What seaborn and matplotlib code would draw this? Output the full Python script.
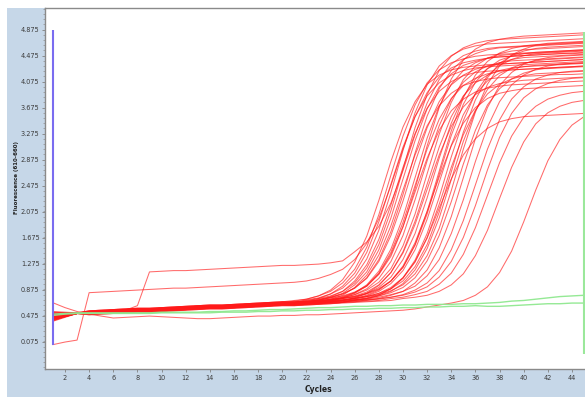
import matplotlib
matplotlib.use("Agg")
import matplotlib.pyplot as plt
import seaborn as sns
import pandas as pd
from matplotlib.patches import Rectangle
from matplotlib.ticker import FixedLocator, MultipleLocator

cycles = list(range(1, 46))

red_curves = {
    "r01": [.45,.49,.51,.53,.54,.55,.56,.57,.57,.58,.59,.60,.61,.62,.62,.63,.64,.65,.66,.67,.70,.73,.78,.87,1.03,1.30,1.70,2.25,2.85,3.38,3.77,4.04,4.18,4.26,4.30,4.32,4.34,4.35,4.36,4.37,4.38,4.39,4.40,4.41,4.42],
    "r02": [.42,.47,.51,.55,.56,.57,.58,.59,.59,.60,.61,.62,.63,.64,.64,.65,.66,.67,.68,.69,.71,.73,.78,.85,.98,1.19,1.53,2.03,2.64,3.24,3.72,4.06,4.26,4.37,4.43,4.47,4.49,4.50,4.51,4.52,4.53,4.54,4.55,4.56,4.57],
    "r03": [.50,.51,.51,.51,.52,.53,.54,.55,.55,.56,.57,.58,.59,.60,.60,.61,.62,.63,.64,.65,.65,.68,.72,.77,.85,1.01,1.26,1.65,2.18,2.76,3.28,3.67,3.93,4.08,4.17,4.22,4.24,4.25,4.26,4.27,4.28,4.28,4.29,4.30,4.31],
    "r04": [.40,.46,.51,.54,.55,.56,.57,.58,.58,.59,.60,.61,.62,.63,.63,.64,.65,.66,.67,.68,.68,.72,.75,.81,.90,1.07,1.35,1.79,2.37,3.02,3.60,4.03,4.32,4.48,4.58,4.63,4.66,4.67,4.68,4.69,4.70,4.71,4.72,4.73,4.74],
    "r05": [.47,.49,.51,.52,.53,.54,.55,.56,.56,.57,.58,.59,.60,.61,.61,.62,.63,.64,.65,.66,.66,.69,.71,.76,.82,.95,1.15,1.49,1.98,2.58,3.17,3.66,4.00,4.20,4.33,4.39,4.44,4.46,4.47,4.48,4.49,4.50,4.51,4.51,4.52],
    "r06": [.53,.52,.51,.50,.51,.52,.53,.54,.54,.55,.56,.57,.58,.59,.59,.60,.61,.62,.63,.64,.64,.67,.69,.73,.79,.91,1.10,1.41,1.86,2.41,2.95,3.40,3.71,3.90,4.02,4.08,4.12,4.14,4.15,4.16,4.17,4.18,4.19,4.19,4.20],
    "r07": [.44,.48,.51,.53,.54,.55,.56,.57,.57,.58,.59,.60,.61,.62,.62,.63,.64,.65,.66,.67,.67,.68,.72,.75,.81,.90,1.06,1.34,1.77,2.34,2.98,3.55,3.97,4.25,4.42,4.51,4.57,4.60,4.61,4.62,4.63,4.64,4.65,4.66,4.67],
    "r08": [.49,.50,.52,.54,.55,.56,.57,.58,.58,.59,.60,.61,.62,.63,.63,.64,.65,.66,.67,.68,.68,.69,.73,.76,.81,.90,1.05,1.31,1.71,2.24,2.84,3.37,3.77,4.03,4.18,4.27,4.32,4.35,4.36,4.37,4.38,4.39,4.40,4.41,4.42],
    "r09": [.41,.46,.51,.51,.52,.53,.54,.55,.55,.56,.57,.58,.59,.60,.60,.61,.62,.63,.64,.65,.65,.66,.69,.71,.76,.83,.95,1.16,1.50,1.99,2.60,3.21,3.70,4.04,4.25,4.37,4.44,4.48,4.50,4.51,4.52,4.53,4.54,4.55,4.56],
    "r10": [.46,.49,.51,.53,.54,.55,.56,.57,.57,.58,.59,.60,.61,.62,.62,.63,.64,.65,.66,.67,.67,.68,.71,.73,.77,.83,.94,1.12,1.42,1.85,2.38,2.90,3.33,3.63,3.81,3.92,3.98,4.01,4.03,4.04,4.05,4.06,4.07,4.08,4.09],
    "r11": [.52,.52,.52,.55,.56,.57,.58,.59,.59,.60,.61,.62,.63,.64,.64,.65,.66,.67,.68,.69,.69,.70,.71,.75,.78,.84,.93,1.11,1.39,1.84,2.43,3.09,3.68,4.12,4.41,4.58,4.68,4.73,4.76,4.78,4.79,4.80,4.81,4.82,4.83],
    "r12": [.43,.47,.51,.52,.53,.54,.55,.56,.56,.57,.58,.59,.60,.61,.61,.62,.63,.64,.65,.66,.66,.67,.68,.72,.75,.80,.89,1.05,1.31,1.71,2.26,2.86,3.40,3.81,4.07,4.23,4.32,4.37,4.40,4.41,4.42,4.43,4.44,4.45,4.46],
    "r13": [.48,.50,.51,.50,.51,.52,.53,.54,.54,.55,.56,.57,.58,.59,.59,.60,.61,.62,.63,.64,.64,.65,.66,.69,.71,.75,.82,.94,1.14,1.46,1.93,2.50,3.07,3.54,3.86,4.06,4.18,4.25,4.29,4.31,4.32,4.33,4.34,4.35,4.36],
    "r14": [.45,.48,.51,.54,.55,.56,.57,.58,.58,.59,.60,.61,.62,.63,.63,.64,.65,.66,.67,.68,.68,.69,.70,.73,.75,.80,.87,.99,1.20,1.55,2.04,2.66,3.27,3.76,4.11,4.32,4.44,4.51,4.55,4.57,4.58,4.59,4.60,4.61,4.62],
    "r15": [.39,.45,.51,.53,.54,.55,.56,.57,.57,.58,.59,.60,.61,.62,.62,.63,.64,.65,.66,.67,.67,.68,.69,.70,.74,.77,.82,.91,1.07,1.34,1.74,2.29,2.90,3.44,3.85,4.12,4.28,4.37,4.42,4.45,4.46,4.47,4.48,4.49,4.50],
    "r16": [.50,.51,.51,.51,.52,.53,.54,.55,.55,.56,.57,.58,.59,.60,.60,.61,.62,.63,.64,.65,.65,.66,.67,.68,.71,.74,.79,.87,1.01,1.24,1.60,2.08,2.61,3.09,3.44,3.68,3.82,3.90,3.94,3.97,3.98,3.99,4.00,4.01,4.02],
    "r17": [.44,.48,.51,.54,.55,.56,.57,.58,.58,.59,.60,.61,.62,.63,.63,.64,.65,.66,.67,.68,.68,.69,.70,.71,.74,.76,.81,.88,1.01,1.22,1.57,2.08,2.70,3.32,3.83,4.18,4.39,4.52,4.59,4.63,4.65,4.66,4.67,4.68,4.69],
    "r18": [.47,.49,.51,.52,.53,.54,.55,.56,.56,.57,.58,.59,.60,.61,.61,.62,.63,.64,.65,.66,.66,.67,.68,.69,.72,.74,.78,.85,.97,1.17,1.49,1.96,2.53,3.10,3.57,3.89,4.09,4.21,4.28,4.31,4.33,4.34,4.35,4.36,4.37],
    "r19": [.42,.47,.51,.50,.51,.52,.53,.54,.54,.55,.56,.57,.58,.59,.59,.60,.61,.62,.63,.64,.64,.65,.66,.67,.68,.72,.75,.80,.89,1.06,1.33,1.74,2.30,2.92,3.48,3.90,4.17,4.33,4.42,4.48,4.51,4.52,4.53,4.54,4.55],
    "r20": [.54,.53,.52,.53,.54,.55,.56,.57,.57,.58,.59,.60,.61,.62,.62,.63,.64,.65,.66,.67,.67,.68,.69,.70,.71,.74,.77,.82,.91,1.06,1.30,1.68,2.19,2.76,3.26,3.64,3.89,4.04,4.12,4.17,4.20,4.21,4.22,4.23,4.24],
    "r21": [.46,.49,.51,.51,.52,.53,.54,.55,.55,.56,.57,.58,.59,.60,.60,.61,.62,.63,.64,.65,.65,.66,.67,.68,.69,.72,.74,.78,.85,.97,1.18,1.51,1.98,2.57,3.16,3.63,3.96,4.17,4.29,4.36,4.40,4.42,4.43,4.44,4.45],
    "r22": [.41,.46,.51,.54,.55,.56,.57,.58,.58,.59,.60,.61,.62,.63,.63,.64,.65,.66,.67,.68,.68,.69,.70,.71,.72,.75,.77,.82,.89,1.01,1.23,1.57,2.07,2.69,3.30,3.80,4.14,4.36,4.48,4.55,4.59,4.61,4.62,4.63,4.64],
    "r23": [.48,.50,.51,.52,.53,.54,.55,.56,.56,.57,.58,.59,.60,.61,.61,.62,.63,.64,.65,.66,.66,.67,.68,.69,.70,.71,.74,.78,.83,.91,1.06,1.32,1.71,2.23,2.81,3.33,3.72,3.97,4.12,4.21,4.26,4.29,4.30,4.31,4.32],
    "r24": [.45,.48,.51,.50,.51,.52,.53,.54,.54,.55,.56,.57,.58,.59,.59,.60,.61,.62,.63,.64,.64,.65,.66,.67,.68,.69,.72,.74,.79,.85,.98,1.18,1.52,2.00,2.60,3.20,3.68,4.02,4.22,4.35,4.41,4.45,4.47,4.48,4.49],
    "r25": [.43,.47,.51,.53,.54,.55,.56,.57,.57,.58,.59,.60,.61,.62,.62,.63,.64,.65,.66,.67,.67,.68,.69,.70,.71,.72,.73,.76,.80,.85,.93,1.09,1.34,1.74,2.26,2.85,3.38,3.77,4.03,4.18,4.27,4.32,4.35,4.36,4.37],
    "r26": [.50,.51,.51,.51,.52,.53,.54,.55,.55,.56,.57,.58,.59,.60,.60,.61,.62,.63,.64,.65,.65,.66,.67,.68,.69,.70,.71,.74,.76,.80,.87,.98,1.17,1.49,1.94,2.49,3.04,3.49,3.81,4.00,4.12,4.18,4.22,4.24,4.25],
    "r27": [.46,.49,.51,.52,.53,.54,.55,.56,.56,.57,.58,.59,.60,.61,.61,.62,.63,.64,.65,.66,.66,.67,.68,.69,.70,.71,.72,.73,.76,.79,.84,.92,1.07,1.31,1.68,2.17,2.72,3.22,3.59,3.83,3.97,4.05,4.10,4.13,4.14],
    "r28": [.44,.48,.51,.50,.51,.52,.53,.54,.54,.55,.56,.57,.58,.59,.59,.60,.61,.62,.63,.64,.64,.65,.66,.67,.68,.69,.70,.71,.74,.76,.80,.85,.96,1.13,1.42,1.83,2.33,2.83,3.24,3.53,3.70,3.81,3.87,3.91,3.93],
    "r29": [.48,.50,.51,.49,.50,.51,.52,.53,.53,.54,.55,.56,.57,.58,.58,.59,.60,.61,.62,.63,.63,.64,.65,.66,.68,.71,.74,.79,.89,1.05,1.31,1.67,2.13,2.58,2.95,3.20,3.36,3.46,3.51,3.54,3.55,3.56,3.57,3.58,3.59],
    "r30": [.47,.49,.51,.49,.50,.51,.52,.53,.53,.54,.55,.56,.57,.58,.58,.59,.60,.61,.62,.63,.63,.64,.65,.66,.67,.68,.69,.70,.71,.74,.76,.79,.85,.95,1.12,1.40,1.79,2.28,2.76,3.15,3.43,3.60,3.70,3.76,3.79],
    "r31": [.675,.60,.54,.50,.47,.44,.45,.46,.47,.46,.45,.44,.43,.43,.44,.45,.46,.47,.47,.48,.48,.49,.49,.50,.51,.52,.53,.54,.55,.56,.58,.61,.64,.67,.71,.79,.92,1.14,1.47,1.92,2.41,2.86,3.19,3.41,3.54],
    "r32": [.03,.07,.10,.83,.84,.85,.86,.87,.88,.89,.90,.90,.91,.92,.93,.94,.95,.96,.97,.98,.99,1.01,1.05,1.11,1.19,1.34,1.59,1.97,2.48,3.04,3.54,3.91,4.15,4.29,4.37,4.41,4.44,4.46,4.47,4.48,4.49,4.50,4.51,4.52,4.53],
    "r33": [.50,.51,.52,.53,.54,.55,.56,.63,1.15,1.16,1.17,1.17,1.18,1.19,1.20,1.21,1.22,1.23,1.24,1.25,1.25,1.26,1.27,1.29,1.32,1.46,1.61,1.85,2.21,2.71,3.26,3.75,4.11,4.35,4.48,4.55,4.59,4.61,4.62,4.63,4.64,4.65,4.66,4.67,4.68],
    "r34": [.51,.51,.51,.52,.53,.54,.55,.56,.56,.57,.58,.59,.60,.61,.61,.62,.63,.64,.65,.66,.68,.70,.74,.81,.93,1.13,1.45,1.92,2.50,3.07,3.54,3.86,4.06,4.18,4.25,4.29,4.31,4.32,4.33,4.34,4.35,4.36,4.37,4.38,4.39],
    "r35": [.43,.47,.51,.54,.55,.56,.57,.58,.58,.59,.60,.61,.62,.63,.63,.64,.65,.66,.67,.68,.68,.71,.74,.78,.85,.98,1.21,1.57,2.09,2.73,3.37,3.88,4.25,4.47,4.60,4.67,4.71,4.73,4.74,4.75,4.76,4.77,4.78,4.79,4.80],
    "r36": [.49,.50,.51,.51,.52,.53,.54,.55,.55,.56,.57,.58,.59,.60,.60,.61,.62,.63,.64,.65,.65,.66,.69,.71,.75,.82,.93,1.13,1.45,1.91,2.48,3.04,3.50,3.82,4.02,4.13,4.20,4.24,4.26,4.27,4.28,4.29,4.30,4.31,4.32],
    "r37": [.42,.47,.51,.53,.54,.55,.56,.57,.57,.58,.59,.60,.61,.62,.62,.63,.64,.65,.66,.67,.67,.68,.69,.72,.74,.78,.84,.95,1.14,1.44,1.88,2.42,2.95,3.39,3.69,3.88,3.99,4.05,4.08,4.10,4.11,4.12,4.13,4.14,4.15],
    "r38": [.52,.52,.52,.55,.56,.57,.58,.59,.59,.60,.61,.62,.63,.64,.64,.65,.66,.67,.68,.69,.69,.70,.71,.72,.75,.77,.82,.89,1.01,1.22,1.56,2.04,2.65,3.25,3.73,4.07,4.28,4.41,4.47,4.51,4.53,4.54,4.55,4.56,4.57],
    "r39": [.40,.46,.51,.54,.55,.56,.57,.58,.58,.59,.60,.61,.62,.63,.63,.64,.65,.66,.67,.68,.68,.69,.70,.71,.72,.73,.77,.80,.86,.95,1.12,1.40,1.82,2.40,3.04,3.61,4.04,4.32,4.49,4.58,4.64,4.67,4.68,4.69,4.70],
}

green_curves = {
    "g01": [.50,.51,.52,.52,.52,.52,.52,.52,.52,.53,.53,.53,.53,.54,.54,.55,.55,.56,.57,.57,.58,.59,.60,.60,.61,.62,.62,.63,.63,.64,.64,.65,.65,.65,.66,.66,.67,.68,.70,.71,.73,.75,.77,.78,.79],
    "g02": [.48,.50,.51,.51,.51,.51,.51,.51,.51,.52,.52,.52,.52,.52,.53,.53,.53,.54,.54,.55,.55,.56,.56,.57,.57,.58,.58,.59,.59,.60,.60,.61,.61,.62,.62,.63,.62,.62,.63,.64,.65,.66,.66,.67,.67],
}

y_ticks = [0.075, 0.475, 0.875, 1.275, 1.675, 2.075, 2.475, 2.875, 3.275, 3.675, 4.075, 4.475, 4.875]
y_tick_labels = ["0.075", "0.475", "0.875", "1.275", "1.675", "2.075", "2.475", "2.875",
                 "3.275", "3.675", "4.075", "4.475", "4.875"]
x_ticks = list(range(2, 46, 2))
marker_cycles = [1, 45]
marker_low = [0.03, -0.12]
marker_high = [4.875, 4.85]
marker_colors = ["#7a6cf0", "#9be89b"]


def to_long(curves):
    rows = []
    for name, vals in curves.items():
        for c, v in zip(cycles, vals):
            rows.append({"well": name, "cycle": c, "value": v})
    return pd.DataFrame(rows)


df_red = to_long(red_curves)
df_green = to_long(green_curves)

W, H = 585, 397
fig = plt.figure(figsize=(W / 100, H / 100), dpi=100, facecolor="white")
bg = Rectangle((7 / W, 0), 1 - 7 / W, 1 - 8 / H, transform=fig.transFigure,
               facecolor="#c6d7e8", edgecolor="none", zorder=-10)
fig.add_artist(bg)

ax = fig.add_axes([45 / W, 1 - 369 / H, 1 - 45 / W, (369 - 8) / H])
ax.set_zorder(1)
ax.set_facecolor("white")

sns.lineplot(data=df_red, x="cycle", y="value", units="well", estimator=None,
             color="#ff1a1a", linewidth=0.75, alpha=0.65, ax=ax, legend=False)
sns.lineplot(data=df_green, x="cycle", y="value", units="well", estimator=None,
             color="#8fe88f", linewidth=1.0, alpha=0.95, ax=ax, legend=False)

for xc, lo, hi, col in zip(marker_cycles, marker_low, marker_high, marker_colors):
    ax.vlines(xc, lo, hi, colors=col, linewidth=1.5, zorder=5)

ax.set_xlim(0.343, 45.08)
ax.set_ylim(-0.345, 5.213)

ax.yaxis.set_major_locator(FixedLocator(y_ticks))
ax.set_yticklabels(y_tick_labels)
ax.yaxis.set_minor_locator(MultipleLocator(0.08))
ax.xaxis.set_major_locator(FixedLocator(x_ticks))
ax.set_xticklabels([str(t) for t in x_ticks])

ax.tick_params(axis="both", which="major", labelsize=4.7, labelcolor="#3a3a3a",
               color="#808080", length=2.5, width=0.6, pad=1.5)
ax.tick_params(axis="y", which="minor", length=1.5, width=0.5, color="#909090")

for side in ["left", "bottom", "top"]:
    ax.spines[side].set_color("#8a8a8a")
    ax.spines[side].set_linewidth(1.0)
ax.spines["right"].set_visible(False)

ax.set_xlabel("Cycles", fontsize=5.5, fontweight="bold", color="#222222")
ax.set_ylabel("Fluorescence (610-660)", fontsize=4.0, fontweight="bold", color="#222222")
ax.xaxis.set_label_coords(0.507, -0.043)
ax.yaxis.set_label_coords(-0.048, 0.53)

fig.savefig("out.png", dpi=100, facecolor="white")
